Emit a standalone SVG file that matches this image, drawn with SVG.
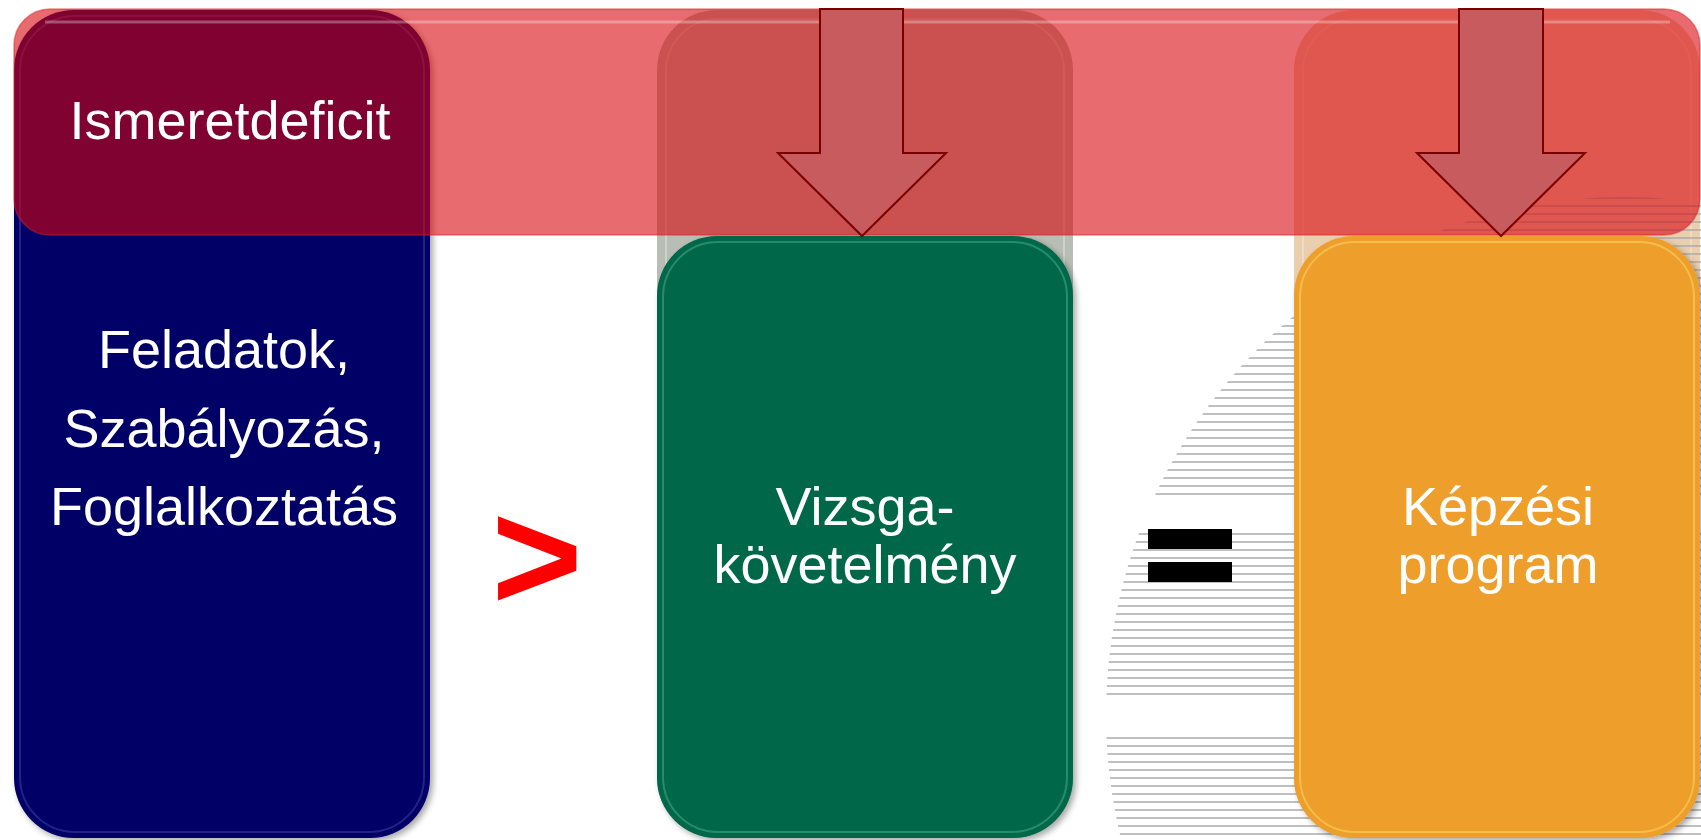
<svg xmlns="http://www.w3.org/2000/svg" width="1701" height="840" viewBox="0 0 1701 840">
<style>
.lbl{font-family:"Liberation Sans",Arial,sans-serif;font-size:54px;fill:#ffffff;text-anchor:middle}
.hatch line{stroke:#ABABAB;stroke-width:1.7}
.rim{fill:none;stroke-width:2}
.arrow{fill:#C75B5D;stroke:#7A0000;stroke-width:2}
</style>
<defs>
<clipPath id="circ"><circle cx="1624" cy="715" r="518"/></clipPath>
<filter id="sh" x="-5%" y="-5%" width="115%" height="115%">
<feGaussianBlur in="SourceAlpha" stdDeviation="3"/>
<feOffset dx="3" dy="3"/>
<feComponentTransfer><feFuncA type="linear" slope="0.35"/></feComponentTransfer>
<feMerge><feMergeNode/><feMergeNode in="SourceGraphic"/></feMerge>
</filter>
</defs>
<rect width="1701" height="840" fill="#ffffff"/>

<g id="ghost-green">
<rect x="657" y="10" width="416" height="828" rx="60" fill="#B8BEB4"/>
<rect class="rim" x="666" y="19" width="398" height="810" rx="52" stroke="#DDE6DC" stroke-opacity="0.5"/>
</g>
<g id="ghost-orange">
<rect x="1294" y="10" width="406" height="828" rx="60" fill="#EACFAF"/>
<rect class="rim" x="1303" y="19" width="388" height="810" rx="52" stroke="#F6E6D2" stroke-opacity="0.5"/>
</g>

<g id="hatch" class="hatch" clip-path="url(#circ)">
<g id="band1">
<line x1="1090" y1="198" x2="1701" y2="198"/><line x1="1090" y1="206" x2="1701" y2="206"/><line x1="1090" y1="214" x2="1701" y2="214"/><line x1="1090" y1="222" x2="1701" y2="222"/><line x1="1090" y1="230" x2="1701" y2="230"/><line x1="1090" y1="238" x2="1701" y2="238"/><line x1="1090" y1="246" x2="1701" y2="246"/><line x1="1090" y1="254" x2="1701" y2="254"/><line x1="1090" y1="262" x2="1701" y2="262"/><line x1="1090" y1="270" x2="1701" y2="270"/><line x1="1090" y1="278" x2="1701" y2="278"/><line x1="1090" y1="286" x2="1701" y2="286"/><line x1="1090" y1="294" x2="1701" y2="294"/><line x1="1090" y1="302" x2="1701" y2="302"/><line x1="1090" y1="310" x2="1701" y2="310"/><line x1="1090" y1="318" x2="1701" y2="318"/><line x1="1090" y1="326" x2="1701" y2="326"/><line x1="1090" y1="334" x2="1701" y2="334"/><line x1="1090" y1="342" x2="1701" y2="342"/><line x1="1090" y1="350" x2="1701" y2="350"/><line x1="1090" y1="358" x2="1701" y2="358"/><line x1="1090" y1="366" x2="1701" y2="366"/><line x1="1090" y1="374" x2="1701" y2="374"/><line x1="1090" y1="382" x2="1701" y2="382"/><line x1="1090" y1="390" x2="1701" y2="390"/><line x1="1090" y1="398" x2="1701" y2="398"/><line x1="1090" y1="406" x2="1701" y2="406"/><line x1="1090" y1="414" x2="1701" y2="414"/><line x1="1090" y1="422" x2="1701" y2="422"/><line x1="1090" y1="430" x2="1701" y2="430"/><line x1="1090" y1="438" x2="1701" y2="438"/><line x1="1090" y1="446" x2="1701" y2="446"/><line x1="1090" y1="454" x2="1701" y2="454"/><line x1="1090" y1="462" x2="1701" y2="462"/><line x1="1090" y1="470" x2="1701" y2="470"/><line x1="1090" y1="478" x2="1701" y2="478"/><line x1="1090" y1="486" x2="1701" y2="486"/><line x1="1090" y1="494" x2="1701" y2="494"/>
</g>
<g id="band2">
<line x1="1090" y1="534" x2="1701" y2="534"/><line x1="1090" y1="542" x2="1701" y2="542"/><line x1="1090" y1="550" x2="1701" y2="550"/><line x1="1090" y1="558" x2="1701" y2="558"/><line x1="1090" y1="566" x2="1701" y2="566"/><line x1="1090" y1="574" x2="1701" y2="574"/><line x1="1090" y1="582" x2="1701" y2="582"/><line x1="1090" y1="590" x2="1701" y2="590"/><line x1="1090" y1="598" x2="1701" y2="598"/><line x1="1090" y1="606" x2="1701" y2="606"/><line x1="1090" y1="614" x2="1701" y2="614"/><line x1="1090" y1="622" x2="1701" y2="622"/><line x1="1090" y1="630" x2="1701" y2="630"/><line x1="1090" y1="638" x2="1701" y2="638"/><line x1="1090" y1="646" x2="1701" y2="646"/><line x1="1090" y1="654" x2="1701" y2="654"/><line x1="1090" y1="662" x2="1701" y2="662"/><line x1="1090" y1="670" x2="1701" y2="670"/><line x1="1090" y1="678" x2="1701" y2="678"/><line x1="1090" y1="686" x2="1701" y2="686"/><line x1="1090" y1="694" x2="1701" y2="694"/>
</g>
<g id="band3">
<line x1="1090" y1="738" x2="1701" y2="738"/><line x1="1090" y1="746" x2="1701" y2="746"/><line x1="1090" y1="754" x2="1701" y2="754"/><line x1="1090" y1="762" x2="1701" y2="762"/><line x1="1090" y1="770" x2="1701" y2="770"/><line x1="1090" y1="778" x2="1701" y2="778"/><line x1="1090" y1="786" x2="1701" y2="786"/><line x1="1090" y1="794" x2="1701" y2="794"/><line x1="1090" y1="802" x2="1701" y2="802"/><line x1="1090" y1="810" x2="1701" y2="810"/><line x1="1090" y1="818" x2="1701" y2="818"/><line x1="1090" y1="826" x2="1701" y2="826"/><line x1="1090" y1="834" x2="1701" y2="834"/>
</g>
</g>

<g id="box-feladatok" filter="url(#sh)">
<rect x="14" y="10" width="416" height="828" rx="60" fill="#000066"/>
<rect class="rim" x="20" y="16" width="404" height="816" rx="55" stroke="#6F78D8" stroke-opacity="0.3"/>
</g>
<g id="box-vizsga" filter="url(#sh)">
<rect x="657" y="236" width="416" height="602" rx="60" fill="#00684A"/>
<rect class="rim" x="663" y="242" width="404" height="590" rx="55" stroke="#7FE0BE" stroke-opacity="0.3"/>
</g>
<g id="box-kepzesi" filter="url(#sh)">
<rect x="1294" y="236" width="406" height="602" rx="60" fill="#EE9E29"/>
<rect class="rim" x="1300" y="242" width="394" height="590" rx="55" stroke="#FFE27A" stroke-opacity="0.45"/>
</g>

<g id="banner-ismeretdeficit">
<rect x="14" y="9" width="1686" height="226" rx="36" fill="#D8040A" fill-opacity="0.59" stroke="#E0202A" stroke-opacity="0.5" stroke-width="1.5"/>
<line x1="45" y1="22" x2="1670" y2="22" stroke="#ffffff" stroke-opacity="0.3" stroke-width="3"/>
<text class="lbl" x="230" y="139">Ismeretdeficit</text>
</g>

<g id="connectors">
<polygon class="arrow" points="820,9 903,9 903,153 946,153 862,236 778,153 820,153"/>
<polygon class="arrow" points="1459,9 1543,9 1543,153 1585,153 1501,236 1417,153 1459,153"/>
</g>

<g id="text-feladatok">
<text class="lbl" x="224" y="368">Feladatok,</text>
<text class="lbl" x="224" y="447">Szabályozás,</text>
<text class="lbl" x="224" y="525">Foglalkoztatás</text>
</g>
<g id="text-vizsga">
<text class="lbl" x="865" y="525">Vizsga-</text>
<text class="lbl" x="865" y="583">követelmény</text>
</g>
<g id="text-kepzesi">
<text class="lbl" x="1498" y="525">Képzési</text>
<text class="lbl" x="1498" y="583">program</text>
</g>

<g id="op-greater">
<text x="537" y="610" font-family="Liberation Sans,Arial,sans-serif" font-weight="bold" font-size="156" fill="#FF0000" text-anchor="middle">&gt;</text>
</g>
<g id="op-equal">
<rect x="1148" y="529" width="84" height="20" fill="#000000"/>
<rect x="1148" y="562" width="84" height="20" fill="#000000"/>
</g>
</svg>
